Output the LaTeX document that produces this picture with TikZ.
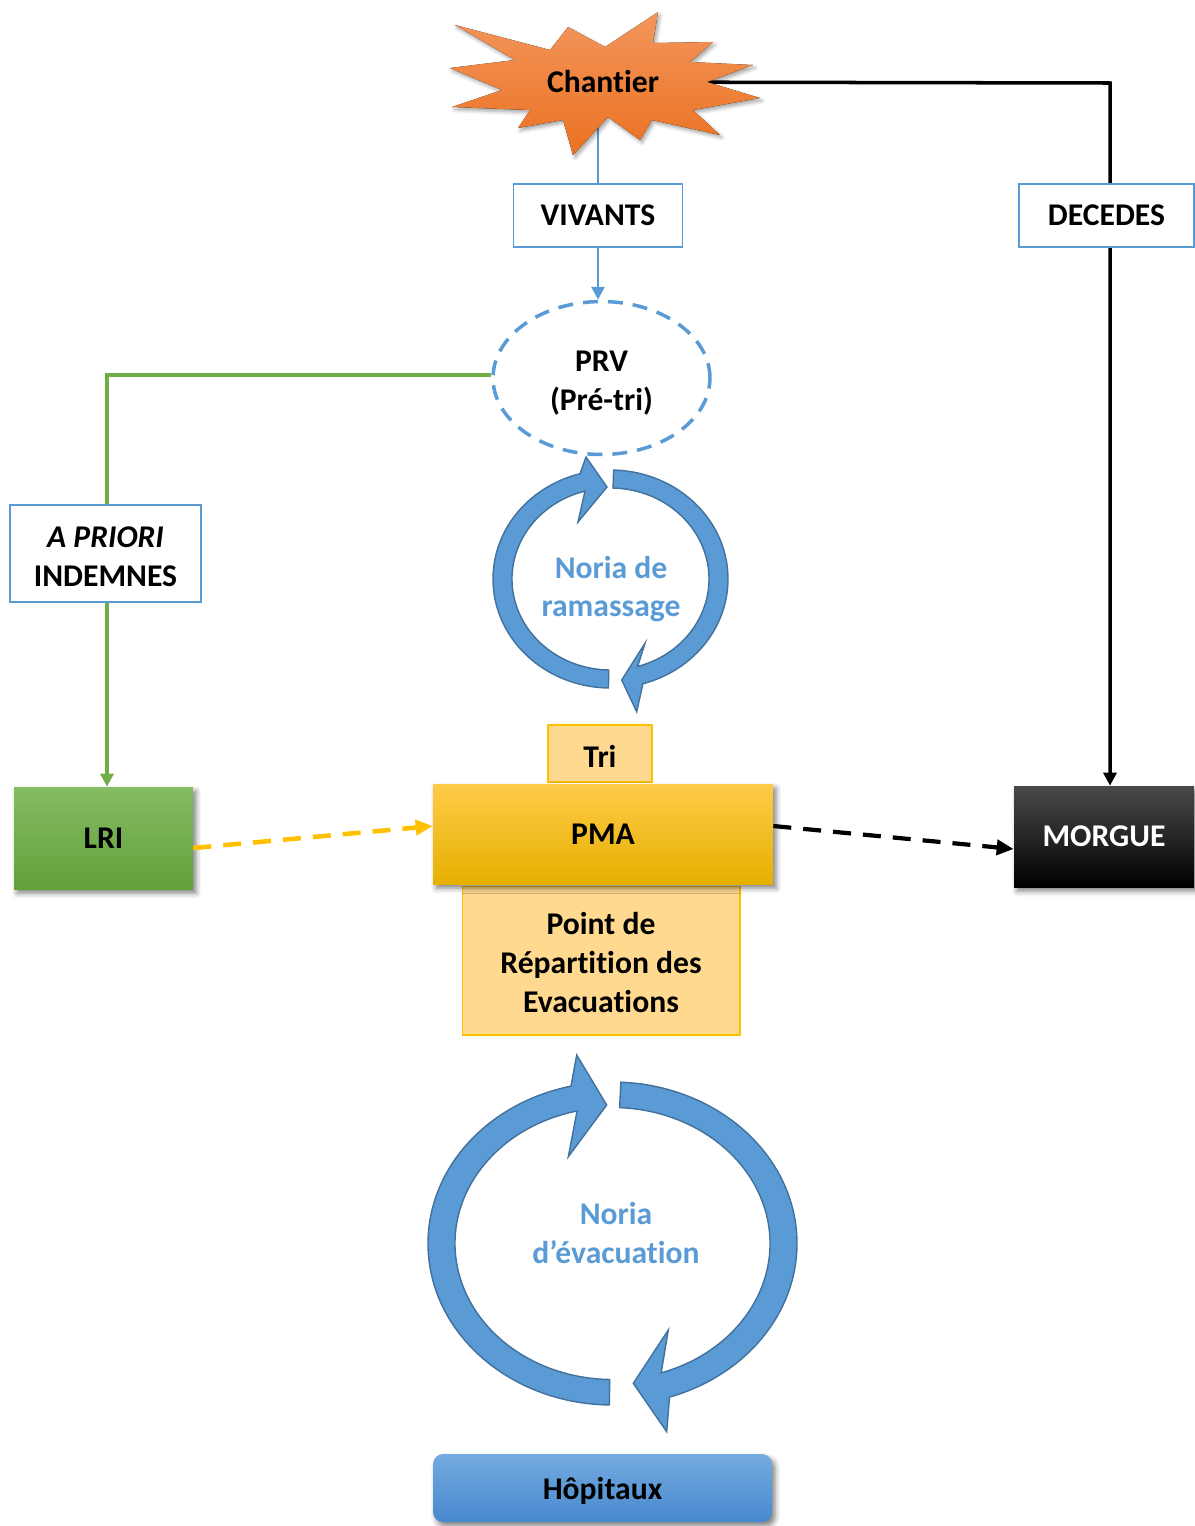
\documentclass[tikz,border=0pt]{standalone}
\usepackage{fontspec}
\setmainfont{Carlito}[Ligatures={TeX,NoCommon,NoContextual}, RawFeature={-liga;-clig;-calt}]
\usetikzlibrary{arrows.meta,shapes.geometric,shadows,shadows.blur,backgrounds,calc}

\definecolor{accblue}{HTML}{5B9BD5}
\definecolor{ringedge}{HTML}{41719C}
\definecolor{lgreen}{HTML}{70AD47}
\definecolor{gold}{HTML}{FFC000}
\definecolor{paleorange}{HTML}{FFD98F}
\definecolor{starTop}{HTML}{F3965C}
\definecolor{starBot}{HTML}{EB7121}
\definecolor{greenTop}{HTML}{85BC64}
\definecolor{greenBot}{HTML}{62A138}
\definecolor{pmaTop}{HTML}{FFCB48}
\definecolor{pmaBot}{HTML}{E6B000}
\definecolor{morgTop}{HTML}{4A4A4A}
\definecolor{hopTop}{HTML}{74AADF}
\definecolor{hopBot}{HTML}{4889CF}

\tikzset{
  lbl/.style={font=\fontsize{18}{22}\selectfont\bfseries, align=center, inner sep=0pt},
  framebox/.style={lbl, draw=accblue, line width=1.1pt, fill=white},
  palebox/.style={lbl, draw=gold, line width=0.6pt, fill=paleorange},
  softshadow/.style={blur shadow={shadow xshift=1.8pt, shadow yshift=-2.4pt,
      shadow blur radius=3pt, shadow opacity=50}},
  ring/.style={fill=accblue, draw=ringedge, line width=0.8pt},
  ringtext/.style={lbl, text=accblue},
  tip/.style={-{Triangle[length=0.26cm, width=0.26cm]}},
  blueline/.style={draw=accblue, line width=1.7pt, tip},
  blackline/.style={draw=black, line width=2pt, tip},
  greenline/.style={draw=lgreen, line width=2pt, tip},
  golddash/.style={draw=gold, line width=2.6pt, dash pattern=on 0.36cm off 0.24cm,
      -{Triangle[length=0.34cm, width=0.3cm]}},
  blackdash/.style={draw=black, line width=2.4pt, dash pattern=on 0.36cm off 0.24cm,
      -{Triangle[length=0.34cm, width=0.3cm]}},
}

\begin{document}
\begin{tikzpicture}[x=0.02cm, y=-0.02cm]
\useasboundingbox (0,0) rectangle (1195,1526);

% ---------- Chantier starburst ----------
\fill[top color=starTop, bottom color=starBot,
      blur shadow={shadow xshift=1.2pt, shadow yshift=-1.6pt, shadow blur radius=2pt, shadow opacity=35}]
  (455,25) -- (550,50) -- (568,27) -- (605,47) -- (658,12) -- (653,43) -- (713,42)
  -- (690,62) -- (753,65) -- (707,82) -- (760,98) -- (693,110) -- (720,135)
  -- (652,120) -- (640,140) -- (608,117) -- (573,155) -- (563,120) -- (518,128)
  -- (530,110) -- (452,107) -- (502,90) -- (450,68) -- (515,60) -- cycle;
\node[lbl] (chantier) at (603,82) {Chantier};

% ---------- labels on the links ----------
\node[framebox, minimum width=3.38cm, minimum height=1.26cm] (vivants) at (598,215.5) {VIVANTS};
\node[framebox, minimum width=3.5cm, minimum height=1.26cm] (decedes) at (1106.5,215.5) {DECEDES};
\node[framebox, minimum width=3.82cm, minimum height=1.94cm] (indemnes) at (105.5,553.5) {};
\node[lbl] (indemnestext) at ([yshift=-0.06cm]indemnes.center) {\textit{A PRIORI}\\INDEMNES};

% ---------- PRV ----------
\node[ellipse, draw=accblue, line width=2pt, dash pattern=on 0.3cm off 0.2cm, fill=white,
      minimum width=4.34cm, minimum height=3.06cm] (prv) at (601.5,378) {};
\node[lbl] (prvtext) at ([yshift=-0.1cm]prv.center) {PRV\\(Pré-tri)};

% ---------- Noria de ramassage ----------
\filldraw[ring]
  ($(610.5,579)+(91:117.5 and 109)$) arc[start angle=91, end angle=255, x radius=117.5, y radius=109]
  -- (586,457) -- (607,487) -- (578,522)
  -- ($(610.5,579)+(255:98.5 and 91)$) arc[start angle=255, end angle=91, x radius=98.5, y radius=91]
  -- cycle;
\filldraw[ring]
  ($(610.5,579)+(271.5:117.5 and 109)$) arc[start angle=271.5, end angle=434, x radius=117.5, y radius=109]
  -- (636.7,711.7) -- (621.7,680) -- (645,643.3)
  -- ($(610.5,579)+(434:98.5 and 91)$) arc[start angle=434, end angle=271.5, x radius=98.5, y radius=91]
  -- cycle;
\node[ringtext] (ramassage) at (611,589) {Noria de\\ramassage};

% ---------- PMA group ----------
\node[palebox, minimum width=2.08cm, minimum height=1.14cm] (tri) at (600,753.5) {};
\node[lbl] (tritext) at ([yshift=-0.05cm]tri.center) {Tri};
\node[palebox, minimum width=5.56cm, minimum height=2.98cm] (pre) at (601,960.5) {};
\node[lbl] (pretext) at ([yshift=-0.04cm]pre.center) {Point de\\Répartition des\\Evacuations};
\node[lbl, softshadow, top color=pmaTop, middle color=gold, bottom color=pmaBot,
      minimum width=6.8cm, minimum height=2cm] (pma) at (603,834) {PMA};

% ---------- LRI and MORGUE ----------
\node[lbl, softshadow, top color=greenTop, bottom color=greenBot,
      minimum width=3.58cm, minimum height=2.04cm] (lri) at (103.5,838) {LRI};
\node[lbl, softshadow, top color=morgTop, middle color=black, bottom color=black, text=white,
      minimum width=3.6cm, minimum height=2.02cm] (morgue) at (1104,836.5) {MORGUE};

% ---------- Noria d'evacuation ----------
\filldraw[ring]
  ($(612.5,1243.5)+(91:184.5 and 161.5)$) arc[start angle=91, end angle=257, x radius=184.5, y radius=161.5]
  -- (576.7,1055) -- (606.7,1105) -- (568.3,1156.7)
  -- ($(612.5,1243.5)+(257:157.5 and 136)$) arc[start angle=257, end angle=91, x radius=157.5, y radius=136]
  -- cycle;
\filldraw[ring]
  ($(612.5,1243.5)+(272.6:184.5 and 161.5)$) arc[start angle=272.6, end angle=432, x radius=184.5, y radius=161.5]
  -- (666.7,1431.7) -- (633.3,1383.3) -- (668.3,1330)
  -- ($(612.5,1243.5)+(432:157.5 and 136)$) arc[start angle=432, end angle=272.6, x radius=157.5, y radius=136]
  -- cycle;
\node[ringtext] (evacuation) at (616,1233) {Noria\\d’évacuation};

% ---------- Hopitaux ----------
\node[softshadow, rounded corners=0.2cm, top color=hopTop, bottom color=hopBot,
      minimum width=6.78cm, minimum height=1.36cm] (hopitaux) at (602.5,1488) {};
\node[lbl] (hopitauxtext) at ([yshift=-0.05cm]hopitaux.center) {Hôpitaux};

% ---------- connectors ----------
\coordinate (dturn) at (1110,83);
\coordinate (gturn) at (107,375);
\begin{pgfonlayer}{background}
  \draw[blueline] (chantier.center -| vivants.center) -- (vivants.south |- prv.north);
  \draw[blackline] (chantier.center) -- (dturn) -- (dturn |- morgue.north);
  \draw[greenline] (prv.west |- gturn) -- (gturn) -- (gturn |- lri.north);
\end{pgfonlayer}
\draw[golddash] ([yshift=-0.2cm]lri.east) -- ([yshift=0.16cm]pma.west);
\draw[blackdash] ([yshift=0.16cm]pma.east) -- ([yshift=-0.25cm]morgue.west);

\end{tikzpicture}
\end{document}
